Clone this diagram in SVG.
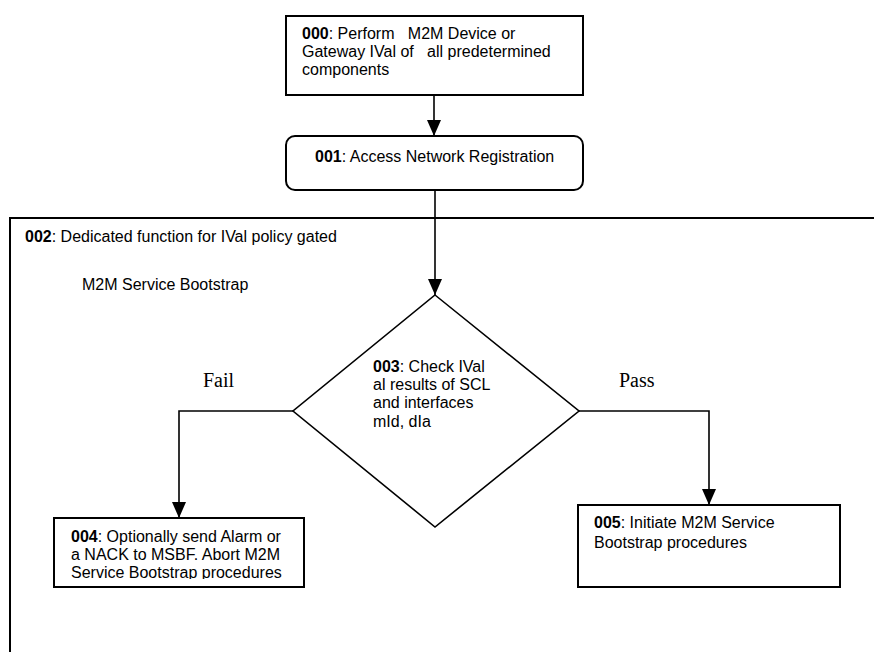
<svg xmlns="http://www.w3.org/2000/svg" width="874" height="652" viewBox="0 0 874 652">
  <style>
    .box { fill: #fff; stroke: #000; stroke-width: 2; }
    .frame { fill: none; stroke: #000; stroke-width: 2; }
    .dia { fill: #fff; stroke: #000; stroke-width: 1.6; }
    .t { font-family: "Liberation Sans", Arial, sans-serif; font-size: 16px; fill: #000; white-space: pre; }
    .b { font-weight: bold; }
    .lbl { font-family: "Liberation Serif", "Times New Roman", serif; font-size: 20px; fill: #000; }
    .edge { fill: none; stroke: #000; stroke-width: 1.6; }
  </style>
  <defs>
    <marker id="arrowL" viewBox="0 0 16 14" refX="16" refY="7" markerWidth="16" markerHeight="14" markerUnits="userSpaceOnUse" orient="auto">
      <path d="M0,0 L16,7 L0,14 z" fill="#000"/>
    </marker>
    <clipPath id="clip004">
      <rect x="54" y="519" width="249" height="60"/>
    </clipPath>
  </defs>

  <!-- 002: dedicated function frame, running off the right and bottom edges -->
  <g id="node002">
    <path class="frame" d="M10,652 L10,218 L874,218"/>
    <text class="t" x="25" y="242"><tspan class="b">002</tspan>: Dedicated function for IVal policy gated</text>
    <text class="t" x="82" y="290">M2M Service Bootstrap</text>
  </g>

  <!-- connectors -->
  <g id="connectors">
    <line class="edge" x1="434" y1="95" x2="434" y2="136" marker-end="url(#arrowL)"/>
    <line class="edge" x1="435" y1="190" x2="435" y2="295" marker-end="url(#arrowL)"/>
    <polyline class="edge" points="293,411 179,411 179,518" marker-end="url(#arrowL)"/>
    <polyline class="edge" points="579,411 709,411 709,505" marker-end="url(#arrowL)"/>
    <text class="lbl" x="203" y="387">Fail</text>
    <text class="lbl" x="619" y="387">Pass</text>
  </g>

  <!-- 000 -->
  <g id="node000">
    <rect class="box" x="286" y="16" width="297" height="79"/>
    <text class="t" x="302" y="39"><tspan class="b">000</tspan>: Perform   M2M Device or</text>
    <text class="t" x="302" y="57">Gateway IVal of   all predetermined</text>
    <text class="t" x="302" y="75">components</text>
  </g>

  <!-- 001 -->
  <g id="node001">
    <rect class="box" x="286" y="136" width="297" height="54" rx="9" ry="9"/>
    <text class="t" x="315" y="162"><tspan class="b">001</tspan>: Access Network Registration</text>
  </g>

  <!-- 003 -->
  <g id="node003">
    <polygon class="dia" points="435,295 579,411 435,527 293,411"/>
    <text class="t" x="373" y="372"><tspan class="b">003</tspan>: Check IVal</text>
    <text class="t" x="373" y="390">al results of SCL</text>
    <text class="t" x="373" y="408">and interfaces</text>
    <text class="t" x="373" y="427">mId, dIa</text>
  </g>

  <!-- 004: last line is cut off by the text area -->
  <g id="node004">
    <rect class="box" x="54" y="518" width="250" height="69"/>
    <g clip-path="url(#clip004)">
      <text class="t" x="71" y="542"><tspan class="b">004</tspan>: Optionally send Alarm or</text>
      <text class="t" x="71" y="560">a NACK to MSBF. Abort M2M</text>
      <text class="t" x="71" y="578">Service Bootstrap procedures</text>
    </g>
  </g>

  <!-- 005 -->
  <g id="node005">
    <rect class="box" x="578" y="505" width="262" height="82"/>
    <text class="t" x="594" y="528"><tspan class="b">005</tspan>: Initiate M2M Service</text>
    <text class="t" x="594" y="548">Bootstrap procedures</text>
  </g>
</svg>
